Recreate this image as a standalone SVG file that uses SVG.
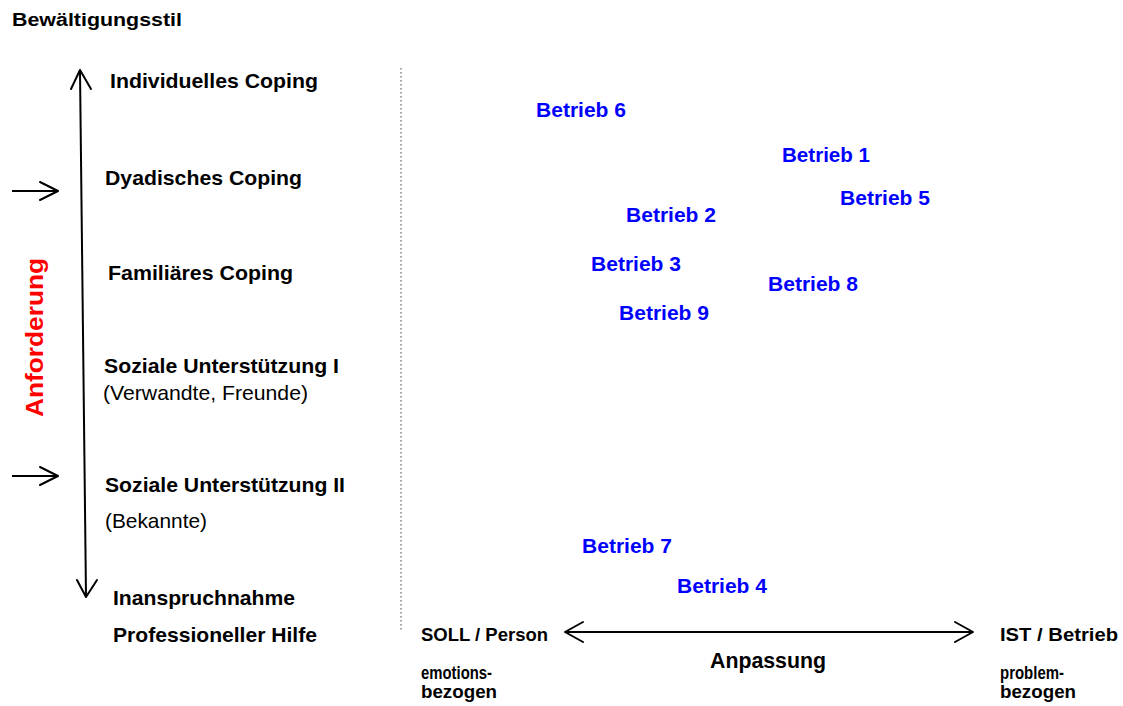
<svg xmlns="http://www.w3.org/2000/svg" width="1123" height="706" viewBox="0 0 1123 706">
  <style>
    text { font-family: "Liberation Sans", Arial, sans-serif; fill: #000; }
    .b { font-weight: bold; font-size: 21px; }
    .r { font-weight: normal; font-size: 21px; }
    .title { font-weight: bold; font-size: 18px; }
    .firm { font-weight: bold; font-size: 21px; fill: #0000FF; }
    .axis { font-weight: bold; font-size: 24px; fill: #FF0000; }
    .narrow { font-family: "Liberation Sans Narrow", "Liberation Sans", Arial, sans-serif; font-weight: bold; font-size: 19px; }
    .narrowBig { font-family: "Liberation Sans Narrow", "Liberation Sans", Arial, sans-serif; font-weight: bold; font-size: 22px; }
    .line { stroke: #000; stroke-width: 2; fill: none; }
    .head { stroke: #000; stroke-width: 2; fill: none; stroke-linecap: round; stroke-linejoin: round; }
    .divider { stroke: #8c8c8c; stroke-width: 1.6; stroke-dasharray: 1.6 2.4; fill: none; }
  </style>

  <!-- heading -->
  <text class="title" x="12" y="26" textLength="170" lengthAdjust="spacingAndGlyphs">Bewältigungsstil</text>

  <!-- coping levels -->
  <g id="level-individuell">
    <text class="b" x="110" y="88" textLength="208" lengthAdjust="spacingAndGlyphs">Individuelles Coping</text>
  </g>
  <g id="level-dyadisch">
    <text class="b" x="105" y="185" textLength="197" lengthAdjust="spacingAndGlyphs">Dyadisches Coping</text>
  </g>
  <g id="level-familiaer">
    <text class="b" x="108" y="280" textLength="185" lengthAdjust="spacingAndGlyphs">Familiäres Coping</text>
  </g>
  <g id="level-sozial-1">
    <text class="b" x="104" y="373" textLength="235" lengthAdjust="spacingAndGlyphs">Soziale Unterstützung I</text>
    <text class="r" x="103" y="400" textLength="205" lengthAdjust="spacingAndGlyphs">(Verwandte, Freunde)</text>
  </g>
  <g id="level-sozial-2">
    <text class="b" x="105" y="492" textLength="240" lengthAdjust="spacingAndGlyphs">Soziale Unterstützung II</text>
    <text class="r" x="105" y="528" textLength="102" lengthAdjust="spacingAndGlyphs">(Bekannte)</text>
  </g>
  <g id="level-professionell">
    <text class="b" x="113" y="605" textLength="182" lengthAdjust="spacingAndGlyphs">Inanspruchnahme</text>
    <text class="b" x="113" y="642" textLength="204" lengthAdjust="spacingAndGlyphs">Professioneller Hilfe</text>
  </g>

  <!-- vertical axis label -->
  <g id="axis-anforderung">
    <text class="axis" transform="translate(43 417) rotate(-90)" x="0" y="0" textLength="159" lengthAdjust="spacingAndGlyphs">Anforderung</text>
  </g>

  <!-- companies -->
  <g id="betrieb-6"><text class="firm" x="536" y="117" textLength="90" lengthAdjust="spacingAndGlyphs">Betrieb 6</text></g>
  <g id="betrieb-1"><text class="firm" x="782" y="162" textLength="88" lengthAdjust="spacingAndGlyphs">Betrieb 1</text></g>
  <g id="betrieb-5"><text class="firm" x="840" y="205" textLength="90" lengthAdjust="spacingAndGlyphs">Betrieb 5</text></g>
  <g id="betrieb-2"><text class="firm" x="626" y="222" textLength="90" lengthAdjust="spacingAndGlyphs">Betrieb 2</text></g>
  <g id="betrieb-3"><text class="firm" x="591" y="271" textLength="90" lengthAdjust="spacingAndGlyphs">Betrieb 3</text></g>
  <g id="betrieb-8"><text class="firm" x="768" y="291" textLength="90" lengthAdjust="spacingAndGlyphs">Betrieb 8</text></g>
  <g id="betrieb-9"><text class="firm" x="619" y="320" textLength="90" lengthAdjust="spacingAndGlyphs">Betrieb 9</text></g>
  <g id="betrieb-7"><text class="firm" x="582" y="553" textLength="90" lengthAdjust="spacingAndGlyphs">Betrieb 7</text></g>
  <g id="betrieb-4"><text class="firm" x="677" y="593" textLength="90" lengthAdjust="spacingAndGlyphs">Betrieb 4</text></g>

  <!-- horizontal scale labels -->
  <g id="pole-soll">
    <text class="narrow" x="421" y="641" textLength="127" lengthAdjust="spacingAndGlyphs">SOLL / Person</text>
    <text class="narrow" x="421" y="679" textLength="71" lengthAdjust="spacingAndGlyphs">emotions-</text>
    <text class="narrow" x="421" y="698" textLength="76" lengthAdjust="spacingAndGlyphs">bezogen</text>
  </g>
  <g id="pole-ist">
    <text class="narrow" x="1000" y="641" textLength="118" lengthAdjust="spacingAndGlyphs">IST / Betrieb</text>
    <text class="narrow" x="1000" y="679" textLength="64" lengthAdjust="spacingAndGlyphs">problem-</text>
    <text class="narrow" x="1000" y="698" textLength="76" lengthAdjust="spacingAndGlyphs">bezogen</text>
  </g>
  <g id="label-anpassung">
    <text class="narrowBig" x="710" y="668" textLength="116" lengthAdjust="spacingAndGlyphs">Anpassung</text>
  </g>

  <!-- connectors -->
  <g id="connectors">
    <!-- dotted divider -->
    <line class="divider" x1="401" y1="68" x2="401" y2="630"/>
    <!-- vertical double arrow -->
    <line class="line" x1="80" y1="71" x2="86" y2="596"/>
    <polyline class="head" points="71,89 80,70 91,89"/>
    <polyline class="head" points="77,580 86,597 97,580"/>
    <!-- entry markers -->
    <line class="line" x1="12" y1="191" x2="57" y2="191"/>
    <polyline class="head" points="40,182 58,191 40,200"/>
    <line class="line" x1="12" y1="476" x2="57" y2="476"/>
    <polyline class="head" points="40,467 58,476 40,485"/>
    <!-- horizontal double arrow -->
    <line class="line" x1="566" y1="632" x2="972" y2="632"/>
    <polyline class="head" points="583,622 565,632 583,642"/>
    <polyline class="head" points="955,622 973,632 955,642"/>
  </g>
</svg>
